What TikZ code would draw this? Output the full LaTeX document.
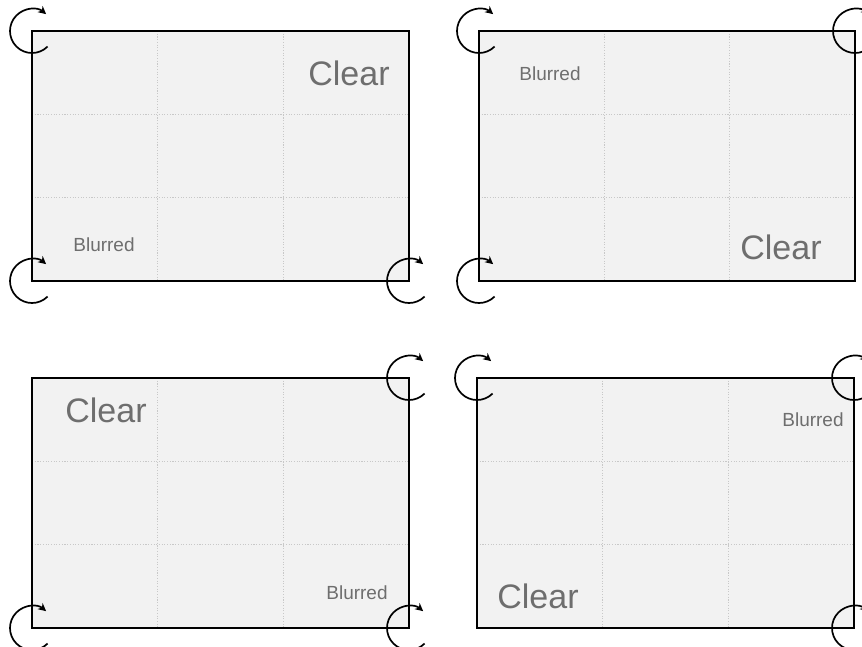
\documentclass[tikz,border=0pt]{standalone}
\usepackage{fontspec}
\setmainfont{Liberation Sans}
\usetikzlibrary{arrows.meta,calc}
\definecolor{panelfill}{HTML}{F2F2F2}
\definecolor{gridcol}{HTML}{C8C8C8}
\definecolor{labelcol}{HTML}{6E6E6E}
\tikzset{
  panel/.style={draw=black, line width=2.8pt, fill=panelfill, minimum width=377pt, minimum height=250pt, anchor=north west, inner sep=0pt, outer sep=0pt},
  gridline/.style={draw=gridcol, line width=1.1pt, dash pattern=on 1.1pt off 1.6pt},
  bigtxt/.style={text=labelcol, font=\fontsize{34}{36}\selectfont, inner sep=0pt},
  smalltxt/.style={text=labelcol, font=\fontsize{19}{21}\selectfont, inner sep=0pt},
  rotarrow/.style={draw=black, line width=1.7pt, -{Stealth[length=8pt,width=8pt]}},
  turnarrow/.pic={\draw[rotarrow] (45:22) arc[start angle=45, end angle=310, radius=22];}
}
\newcommand{\mygrid}[1]{%
  \draw[gridline] ($(#1.north west)!1/3!(#1.north east)$) -- ($(#1.south west)!1/3!(#1.south east)$);
  \draw[gridline] ($(#1.north west)!2/3!(#1.north east)$) -- ($(#1.south west)!2/3!(#1.south east)$);
  \draw[gridline] ($(#1.north west)!1/3!(#1.south west)$) -- ($(#1.north east)!1/3!(#1.south east)$);
  \draw[gridline] ($(#1.north west)!2/3!(#1.south west)$) -- ($(#1.north east)!2/3!(#1.south east)$);
  \draw[line width=2.8pt] (#1.north west) rectangle (#1.south east);
}
\begin{document}
\begin{tikzpicture}[x=1pt,y=-1pt]
\useasboundingbox (0,0) rectangle (862,646);
\clip (0,0) rectangle (862,646);
% panels
\node[panel] (p1) at (32,31) {};
\node[panel, minimum width=376pt] (p2) at (479,31) {};
\node[panel] (p3) at (32,378) {};
\node[panel] (p4) at (477,378) {};
\mygrid{p1}\mygrid{p2}\mygrid{p3}\mygrid{p4}
% labels
\node[bigtxt] (c1) at (349,73) {Clear};
\node[smalltxt] (b1) at (104,245) {Blurred};
\node[smalltxt] (b2) at (550,74) {Blurred};
\node[bigtxt] (c2) at (781,247) {Clear};
\node[bigtxt] (c3) at (106,410) {Clear};
\node[smalltxt] (b3) at (357,593) {Blurred};
\node[smalltxt] (b4) at (813,420) {Blurred};
\node[bigtxt] (c4) at (538,596) {Clear};
% rotation arrows
\pic at (p1.north west) {turnarrow};
\pic at (p1.south west) {turnarrow};
\pic at (p1.south east) {turnarrow};
\pic at (p2.north west) {turnarrow};
\pic at (p2.north east) {turnarrow};
\pic at (p2.south west) {turnarrow};
\pic at (p3.north east) {turnarrow};
\pic at (p3.south west) {turnarrow};
\pic at (p3.south east) {turnarrow};
\pic at (p4.north west) {turnarrow};
\pic at (p4.north east) {turnarrow};
\pic at (p4.south east) {turnarrow};
\end{tikzpicture}
\end{document}
